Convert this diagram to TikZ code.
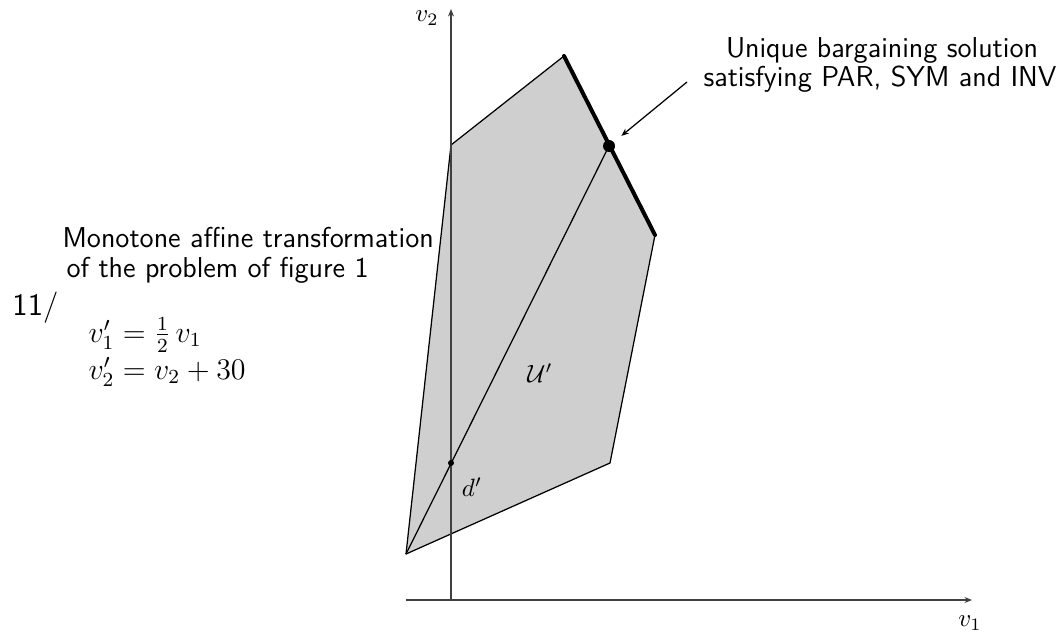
\documentclass[tikz,border=0pt]{standalone}
\usepackage{amsmath,amssymb}
\usetikzlibrary{arrows.meta}

\begin{document}
\begin{tikzpicture}[x=0.4pt, y=-0.4pt, every node/.style={font=\normalsize}, >={Stealth[length=3pt, width=2.4pt]},
	axis/.style={draw=black!75, line width=0.5pt, ->},
	region/.style={fill=black!19, draw=black, line width=0.5pt, line join=round},
	txt/.style={font=\fontsize{11.5pt}{14pt}\selectfont\sffamily, inner sep=0pt}]
	\useasboundingbox (0,0) rectangle (1064,632);
	% the bargaining set
	\coordinate (A) at (406,554); \coordinate (B) at (451,145); \coordinate (C) at (564,56);
	\coordinate (D) at (655,235); \coordinate (E) at (610,463);
	\filldraw[region] (A) -- (B) -- (C) -- (D) -- (E) -- cycle;
	\draw[line width=1.6pt, line cap=round] (C) -- (D);
	% axes
	\coordinate (xs) at (406,600); \coordinate (xe) at (972,600);
	\coordinate (ys) at (451,600); \coordinate (ye) at (451,9);
	\draw[axis] (xs) -- (xe);
	\draw[axis] (ys) -- (ye);
	\node (vone) at (970,623) {$v_1$};
	\node (vtwo) at (427,18) {$v_2$};
	% disagreement point and solution
	\coordinate (dp) at (451,463); \coordinate (S) at (609,146);
	\draw[line width=0.5pt] (A) -- (S);
	\fill (dp) circle (3);
	\fill (S) circle (6);
	\node (dlbl) at (472,487) {$d'$};
	\node (Ulbl) at (540,373) {$\mathcal{U}'$};
	% labels
	\node[txt, anchor=base] (sol1) at (882,58) {Unique bargaining solution};
	\node[txt, anchor=base] (sol2) at (880,87) {satisfying PAR, SYM and INV};
	\coordinate (tail) at (687,82);
	\draw[->, line width=0.5pt, shorten >=6.4pt] (tail) -- (S);
	\node[txt, anchor=base west] (tr1) at (62,247) {Monotone affine transformation};
	\node[txt, anchor=base west] (tr2) at (66,277) {of the problem of figure 1};
	\node[txt, font=\fontsize{12.5pt}{14pt}\selectfont\sffamily, anchor=base west] (num) at (12,315) {11/};
	\node[font=\large, inner sep=0pt, anchor=base west] (eq1) at (88,342) {$v_1' = \frac{1}{2}\,v_1$};
	\node[font=\large, inner sep=0pt, anchor=base west] (eq2) at (88,379) {$v_2' = v_2 + 30$};
\end{tikzpicture}
\end{document}
